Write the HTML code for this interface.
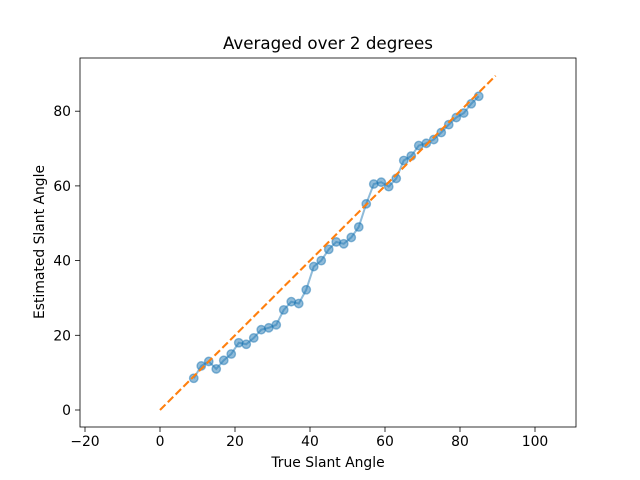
<!DOCTYPE html>
<html><head><meta charset="utf-8"><style>body{margin:0;background:#fff}svg{display:block;font-family:"DejaVu Sans","Liberation Sans",sans-serif}</style></head>
<body>
<svg id="chart" width="640" height="480">
<rect x="0" y="0" width="640" height="480" fill="#fff"/>
<text x="328" y="49" font-size="16.7" text-anchor="middle">Averaged over 2 degrees</text>
<g id="plot"></g>
<rect x="80" y="58" width="496" height="369" fill="none" stroke="#000" stroke-width="0.8"/>
<text x="328" y="467" font-size="13.9" text-anchor="middle">True Slant Angle</text>
<text transform="translate(44,242) rotate(-90)" font-size="13.9" text-anchor="middle">Estimated Slant Angle</text>
</svg>
<script>
const trueAngles=[9,11,13,15,17,19,21,23,25,27,29,31,33,35,37,39,41,43,45,47,49,51,53,55,57,59,61,63,65,67,69,71,73,75,77,79,81,83,85];
const estAngles=[8.5,11.8,13,11,13.3,15,18,17.6,19.3,21.5,22,22.8,26.8,29,28.5,32.2,38.4,40,43,45,44.5,46.2,49,55.2,60.5,61,59.8,62,66.8,68,70.8,71.4,72.4,74.3,76.4,78.3,79.5,82,84];
const idealLine=[0,89.5];
const xTicks=[-20,0,20,40,60,80,100];
const yTicks=[0,20,40,60,80];
const NS='http://www.w3.org/2000/svg';
const X=v=>160+v*3.75, Y=v=>410-v*3.735;
const g=document.getElementById('plot'), svg=document.getElementById('chart');
function mk(t,a,p){const e=document.createElementNS(NS,t);for(const k in a)e.setAttribute(k,a[k]);(p||g).appendChild(e);return e;}
xTicks.forEach(t=>{const x=X(t);
const l=mk('line',{x1:x,x2:x,y1:427,y2:432,stroke:'#000','stroke-width':0.8},svg);


const tx=mk('text',{x:x,y:446,'font-size':13.9,'text-anchor':'middle'},svg);tx.textContent=String(t).replace('-','−');

});
yTicks.forEach(t=>{const y=Y(t);
const l=mk('line',{x1:75,x2:80,y1:y,y2:y,stroke:'#000','stroke-width':0.8},svg);


const tx=mk('text',{x:71,y:y+5,'font-size':13.9,'text-anchor':'end'},svg);tx.textContent=t;

});
const pts=trueAngles.map((v,i)=>X(v)+','+Y(estAngles[i])).join(' ');
const pl=mk('polyline',{points:pts,fill:'none',stroke:'#1f77b4','stroke-opacity':0.5,'stroke-width':2});


trueAngles.forEach((v,i)=>{const c=mk('circle',{cx:X(v),cy:Y(estAngles[i]),r:4.2,fill:'#1f77b4','fill-opacity':0.5,stroke:'#1f77b4','stroke-opacity':0.5,'stroke-width':1.4});

});
const d=mk('line',{x1:X(idealLine[0]),y1:Y(idealLine[0]),x2:X(idealLine[1]),y2:Y(idealLine[1]),stroke:'#ff7f0e','stroke-width':2.1,'stroke-dasharray':'7.7,3.3'});


</script>
</body></html>
